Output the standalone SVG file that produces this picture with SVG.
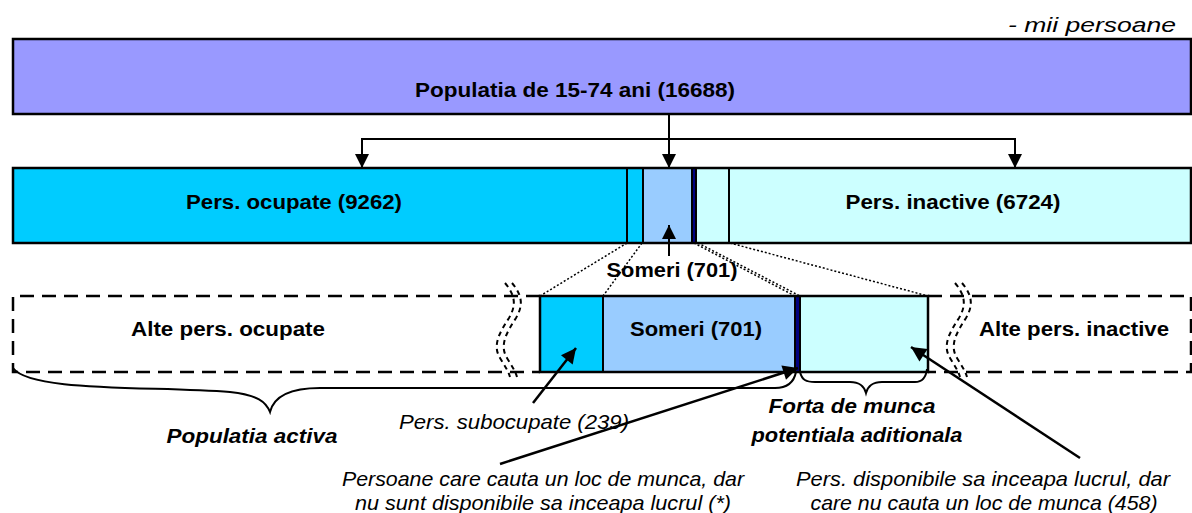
<svg xmlns="http://www.w3.org/2000/svg" width="1192" height="513" viewBox="0 0 1192 513">
<style>
.box{stroke:#000;stroke-width:2.5}
.sep{stroke:#000;stroke-width:2}
.b{font-family:"Liberation Sans",Arial,sans-serif;font-weight:bold;font-size:20px;fill:#000}
.i{font-family:"Liberation Sans",Arial,sans-serif;font-style:italic;font-size:21px;fill:#000}
.bi{font-family:"Liberation Sans",Arial,sans-serif;font-style:italic;font-weight:bold;font-size:20px;fill:#000}
.con{stroke:#000;stroke-width:2;fill:none}
.con2{stroke:#000;stroke-width:2.5;fill:none}
.dot{stroke:#000;stroke-width:1.5;stroke-dasharray:2,2;fill:none}
.dash{stroke:#000;stroke-width:2.5;stroke-dasharray:14,8;fill:none}
.sq{stroke:#000;stroke-width:2;stroke-dasharray:5,4;fill:none}
</style>
<defs>
<marker id="ah" viewBox="0 0 10 10" refX="10" refY="5" markerWidth="7.5" markerHeight="7" orient="auto" markerUnits="strokeWidth">
<path d="M0,0 L10,5 L0,10 z" fill="#000"/>
</marker>
<marker id="ah2" viewBox="0 0 10 10" refX="10" refY="5" markerWidth="6.5" markerHeight="6" orient="auto" markerUnits="strokeWidth">
<path d="M0,0 L10,5 L0,10 z" fill="#000"/>
</marker>
<path id="squig" d="M505,283 C516,296 516,306 509,318 C500,332 492,345 500,358 C504,365 508,370 510,377"/>
</defs>
<text class="i" x="1176" y="32" text-anchor="end" font-size="22" textLength="168" lengthAdjust="spacingAndGlyphs">- mii persoane</text>
<g id="node-pop">
<rect class="box" x="13" y="39" width="1178" height="75" fill="#9999FF"/>
<text class="b" x="575" y="97" text-anchor="middle" textLength="320" lengthAdjust="spacingAndGlyphs">Populatia de 15-74 ani (16688)</text>
</g>
<g id="node-bar">
<rect x="13" y="168" width="1178" height="75" fill="#CCFFFF"/>
<rect x="13" y="168" width="631" height="75" fill="#00CCFF"/>
<rect x="644" y="168" width="48" height="75" fill="#99CCFF"/>
<rect x="692" y="168" width="4" height="75" fill="#000080"/>
<line class="sep" x1="627" y1="168" x2="627" y2="243"/>
<line class="sep" x1="643" y1="168" x2="643" y2="243"/>
<line class="sep" x1="692" y1="168" x2="692" y2="243"/>
<line class="sep" x1="696" y1="168" x2="696" y2="243"/>
<line class="sep" x1="729" y1="168" x2="729" y2="243"/>
<rect class="box" x="13" y="168" width="1178" height="75" fill="none"/>
<text class="b" x="294" y="209" text-anchor="middle" textLength="216" lengthAdjust="spacingAndGlyphs">Pers. ocupate (9262)</text>
<text class="b" x="953" y="209" text-anchor="middle" textLength="215" lengthAdjust="spacingAndGlyphs">Pers. inactive (6724)</text>
</g>
<g id="node-someri-label">
<text class="b" x="672" y="277" text-anchor="middle" textLength="131" lengthAdjust="spacingAndGlyphs">Someri (701)</text>
</g>
<g id="node-alte-ocupate">
<path class="dash" d="M540,296 L13,296 L13,372 L540,372"/>
<use href="#squig" class="sq"/>
<use href="#squig" class="sq" transform="translate(7,0)"/>
<text class="b" x="228" y="336" text-anchor="middle" textLength="194" lengthAdjust="spacingAndGlyphs">Alte pers. ocupate</text>
</g>
<g id="node-detail">
<rect x="540" y="296" width="388" height="76" fill="#CCFFFF"/>
<rect x="540" y="296" width="63" height="76" fill="#00CCFF"/>
<rect x="603" y="296" width="192" height="76" fill="#99CCFF"/>
<rect x="795" y="296" width="5" height="76" fill="#000080"/>
<line class="sep" x1="603" y1="296" x2="603" y2="372"/>
<line class="sep" x1="795" y1="296" x2="795" y2="372"/>
<line class="sep" x1="800" y1="296" x2="800" y2="372"/>
<rect class="box" x="540" y="296" width="388" height="76" fill="none"/>
<text class="b" x="696" y="336" text-anchor="middle" textLength="132" lengthAdjust="spacingAndGlyphs">Someri (701)</text>
</g>
<g id="node-alte-inactive">
<path class="dash" d="M928,296 L1191,296 L1191,372 L928,372"/>
<use href="#squig" class="sq" transform="translate(450,0)"/>
<use href="#squig" class="sq" transform="translate(457,0)"/>
<text class="b" x="1074" y="336" text-anchor="middle" textLength="190" lengthAdjust="spacingAndGlyphs">Alte pers. inactive</text>
</g>
<g id="connectors">
<line class="con" x1="669" y1="114" x2="669" y2="168" marker-end="url(#ah)"/>
<line class="con" x1="362" y1="139" x2="1015" y2="139"/>
<line class="con" x1="362" y1="138" x2="362" y2="168" marker-end="url(#ah)"/>
<line class="con" x1="1015" y1="138" x2="1015" y2="168" marker-end="url(#ah)"/>
<line class="con" x1="669" y1="256" x2="669" y2="225" marker-end="url(#ah)"/>
<line class="dot" x1="627" y1="243" x2="540" y2="296"/>
<line class="dot" x1="642" y1="243" x2="603" y2="296"/>
<line class="dot" x1="694" y1="243" x2="795" y2="296"/>
<line class="dot" x1="698" y1="243" x2="800" y2="296"/>
<line class="dot" x1="730" y1="243" x2="928" y2="296"/>
<line class="con2" x1="533" y1="403" x2="576" y2="348" marker-end="url(#ah2)"/>
<line class="con2" x1="500" y1="464" x2="798" y2="368" marker-end="url(#ah2)"/>
<line class="con2" x1="1080" y1="458" x2="911" y2="347" marker-end="url(#ah2)"/>
<path class="con" d="M13,368 C30,392 150,386 230,392 C258,395 266,402 270,412 C274,396 290,388 320,388 L775,388 C788,388 794,382 796,372"/>
<path class="con" d="M800,372 C802,380 806,382 815,382 L850,382 C860,382 864,386 866,393 C868,386 872,382 882,382 L915,382 C922,382 926,378 927,369"/>
</g>
<g id="labels">
<text class="i" x="514" y="429" text-anchor="middle" textLength="230" lengthAdjust="spacingAndGlyphs">Pers. subocupate (239)</text>
<text class="bi" x="252" y="443" text-anchor="middle" textLength="171" lengthAdjust="spacingAndGlyphs">Populatia activa</text>
<text class="bi" x="852" y="413" text-anchor="middle" textLength="167" lengthAdjust="spacingAndGlyphs">Forta de munca</text>
<text class="bi" x="857" y="442" text-anchor="middle" textLength="211" lengthAdjust="spacingAndGlyphs">potentiala aditionala</text>
<text class="i" x="543" y="486" text-anchor="middle" textLength="402" lengthAdjust="spacingAndGlyphs">Persoane care cauta un loc de munca, dar</text>
<text class="i" x="543" y="510" text-anchor="middle" textLength="376" lengthAdjust="spacingAndGlyphs">nu sunt disponibile  sa inceapa lucrul (*)</text>
<text class="i" x="983" y="486" text-anchor="middle" textLength="374" lengthAdjust="spacingAndGlyphs">Pers. disponibile sa inceapa lucrul, dar</text>
<text class="i" x="984" y="510" text-anchor="middle" textLength="347" lengthAdjust="spacingAndGlyphs">care nu cauta un loc de munca (458)</text>
</g>
</svg>
